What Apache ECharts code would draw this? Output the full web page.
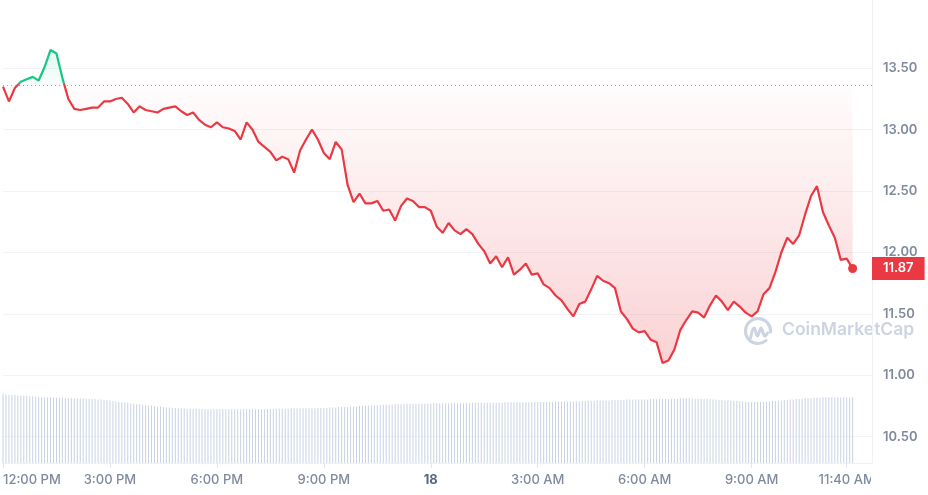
<!DOCTYPE html>
<html>
<head>
<meta charset="utf-8">
<script src="https://cdn.jsdelivr.net/npm/echarts@6/dist/echarts.min.js"></script>
<style>
html,body{margin:0;padding:0;background:#fff;}
#chart{width:928px;height:495px;}
</style>
</head>
<body>
<div id="chart"></div>
<script>
// ---- data ----
// price every 10 minutes starting at 12:00 PM
const priceStepMin = 10;
const prices = [
13.35,13.23,13.34,13.39,13.41,13.43,13.40,13.51,13.65,13.62,13.42,13.25,
13.17,13.16,13.17,13.18,13.18,13.23,13.23,13.25,13.26,13.21,13.14,13.19,
13.16,13.15,13.14,13.17,13.18,13.19,13.15,13.12,13.14,13.08,13.04,13.02,
13.06,13.02,13.01,12.99,12.92,13.06,13.00,12.90,12.86,12.82,12.75,12.78,
12.76,12.65,12.83,12.92,13.00,12.92,12.81,12.76,12.90,12.84,12.55,12.41,
12.48,12.40,12.40,12.42,12.34,12.35,12.26,12.38,12.44,12.42,12.37,12.37,
12.34,12.21,12.16,12.24,12.18,12.15,12.19,12.15,12.07,12.01,11.91,11.97,
11.88,11.96,11.82,11.86,11.91,11.82,11.83,11.74,11.71,11.65,11.61,11.54,
11.48,11.58,11.60,11.70,11.81,11.77,11.75,11.71,11.52,11.46,11.38,11.35,
11.36,11.29,11.27,11.10,11.12,11.21,11.37,11.45,11.52,11.51,11.47,11.57,
11.65,11.60,11.53,11.60,11.56,11.51,11.48,11.52,11.66,11.71,11.84,12.00,
12.12,12.07,12.14,12.31,12.46,12.54,12.33,12.22,12.12,11.94,11.95,11.87
];
// 24h volume (millions) every 5 minutes
const volumeStepMin = 5;
const volumes = [
150,148,147,147,147,146,146,145,145,144,144,143,
143,142,142,142,142,141,141,141,141,140,140,140,
140,140,140,140,139,139,138,138,137,137,136,136,
135,134,133,132,131,131,130,129,128,127,127,126,
125,124,124,123,122,122,121,120,120,119,119,118,
118,118,117,117,117,117,117,116,116,116,116,116,
116,116,116,116,116,116,116,116,116,116,116,116,
116,116,116,116,116,116,117,117,117,117,117,117,
117,118,118,118,118,118,118,118,118,118,119,119,
119,119,120,120,120,121,121,121,121,122,122,122,
123,123,124,124,124,125,125,125,126,126,126,126,
127,127,127,127,128,128,128,128,128,128,128,128,
128,129,129,129,129,129,129,129,129,129,129,129,
129,129,130,130,130,130,130,130,130,130,130,130,
130,131,131,131,131,131,131,131,131,131,131,132,
132,132,132,132,132,132,133,133,133,133,133,133,
133,133,133,134,134,134,134,134,135,135,135,135,
135,136,136,136,136,136,137,137,137,137,137,137,
137,137,138,138,138,139,139,139,138,139,139,139,
140,140,140,140,139,139,139,139,138,138,138,137,
137,136,136,135,135,134,134,134,133,133,133,132,
132,132,132,132,132,133,133,134,134,135,135,136,
136,137,137,138,138,139,140,140,140,141,141,141,
142,142,142,142,142,142,142,142,142,142,142
];
const openPrice = 13.356;
const lastPrice = 11.87;
const xTickMinutes = [0,180,360,540,720,900,1080,1260,1420];
const xTickLabels = ['12:00 PM','3:00 PM','6:00 PM','9:00 PM','18','3:00 AM','6:00 AM','9:00 AM','11:40 AM'];
const yTicks = [10.5,11.0,11.5,12.0,12.5,13.0,13.5];

// ---- build ----
const priceData = prices.map((p,i)=>[i*priceStepMin, p]);
const volumeData = volumes.map((v,i)=>[i*volumeStepMin, v]);
const lastPoint = priceData[priceData.length-1];
const pMax = Math.max(...prices), pMin = Math.min(...prices);
const frac = (pMax - openPrice) / (pMax - pMin);
const yMin = 10.286, yMax = 14.056;

const RED = '#ea3943', GREEN = '#16c784';
const chart = echarts.init(document.getElementById('chart'), null, {renderer:'canvas'});
const labelColor = '#808a9d';

chart.setOption({
  animation:false,
  backgroundColor:'#ffffff',
  textStyle:{fontFamily:'Inter, "Noto Sans", sans-serif'},
  grid:{left:0, right:56, top:0, bottom:32, containLabel:false},
  xAxis:{
    type:'value', min:0, max:1462.6,
    axisLine:{show:true, onZero:false, lineStyle:{color:'#eff2f5'}},
    axisTick:{show:true, customValues:xTickMinutes, length:5, lineStyle:{color:'#e3e7ee'}},
    axisLabel:{
      customValues:xTickMinutes, margin:11, fontSize:13, color:labelColor, fontWeight:500,
      alignMinLabel:'left',
      formatter:function(v){
        const k = xTickMinutes.indexOf(Math.round(v));
        const s = k>=0 ? xTickLabels[k] : '';
        return s === '18' ? '{b|18}' : s;
      },
      rich:{b:{fontWeight:'bold', fontSize:13, color:'#58667e', fontFamily:'Inter, sans-serif'}}
    },
    splitLine:{show:false}
  },
  yAxis:[{
    type:'value', position:'right', min:yMin, max:yMax,
    axisLine:{show:true, onZero:false, lineStyle:{color:'#eff2f5'}},
    axisTick:{show:false, customValues:yTicks},
    axisLabel:{customValues:yTicks, margin:11, fontSize:13, color:labelColor, fontWeight:600,
      formatter:function(v){return v.toFixed(2);}},
    splitLine:{show:true, lineStyle:{color:'#f1f3f6', width:1}}
  },{
    type:'value', position:'right', min:0, max:1000, show:false,
    axisLine:{show:false, onZero:false}, splitLine:{show:false}
  },{
    type:'value', position:'right', min:yMin, max:yMax,
    axisLine:{show:false, onZero:false}, axisTick:{show:false, customValues:[lastPrice]},
    splitLine:{show:false},
    axisLabel:{customValues:[lastPrice], margin:0, fontSize:13, fontWeight:600, color:'#ffffff',
      backgroundColor:RED, padding:[5,11,5,11], fontFamily:'Inter, sans-serif',
      formatter:function(v){return v.toFixed(2);}}
  }],
  graphic:[
    {type:'group', left:743, top:316, z:0, children:[
      {type:'arc', shape:{cx:14.5, cy:15, r:12.5, startAngle:Math.PI*0.28, endAngle:Math.PI*2.02, clockwise:true},
        style:{stroke:'#cdd4e1', lineWidth:3.2, fill:null, lineCap:'round'}},
      {type:'polyline', shape:{points:[[7,22],[10.5,12],[14,20],[17.5,12],[21,20],[24,17]], smooth:0.4},
        style:{stroke:'#cdd4e1', lineWidth:3, fill:null, lineCap:'round', lineJoin:'round'}}
    ]},
    {type:'text', left:782, top:321, z:0,
      style:{text:'CoinMarketCap', fill:'#cdd4e1', font:'600 17.5px Inter, sans-serif'}},
    {type:'rect', left:871, top:467, z:100, shape:{width:60, height:30}, style:{fill:'#ffffff'}}
  ],
  series:[
    {
      type:'bar', xAxisIndex:0, yAxisIndex:1, data:volumeData, barWidth:1,
      itemStyle:{color:'#c9d2e3'}, silent:true, z:1
    },
    {
      type:'line', data:priceData, showSymbol:false, smooth:false, z:3,
      lineStyle:{width:2.2,
        color:new echarts.graphic.LinearGradient(0,0,0,1,[
          {offset:0, color:GREEN},
          {offset:frac, color:GREEN},
          {offset:frac, color:RED},
          {offset:1, color:RED}
        ])
      },
      areaStyle:{
        origin:openPrice,
        color:new echarts.graphic.LinearGradient(0,0,0,1,[
          {offset:0, color:'rgba(22,199,132,0.18)'},
          {offset:frac, color:'rgba(22,199,132,0.03)'},
          {offset:frac, color:'rgba(234,57,67,0.02)'},
          {offset:1, color:'rgba(234,57,67,0.32)'}
        ])
      },
      markLine:{
        silent:true, symbol:'none',
        data:[
          {yAxis:openPrice, lineStyle:{type:[1,3], color:'#a1a7bb', width:1}, label:{show:false}}
        ]
      },
      markPoint:{
        silent:true,
        data:[{coord:lastPoint, symbol:'circle', symbolSize:9, itemStyle:{color:RED}, label:{show:false}}]
      }
    }
  ]
});
</script>
</body>
</html>
